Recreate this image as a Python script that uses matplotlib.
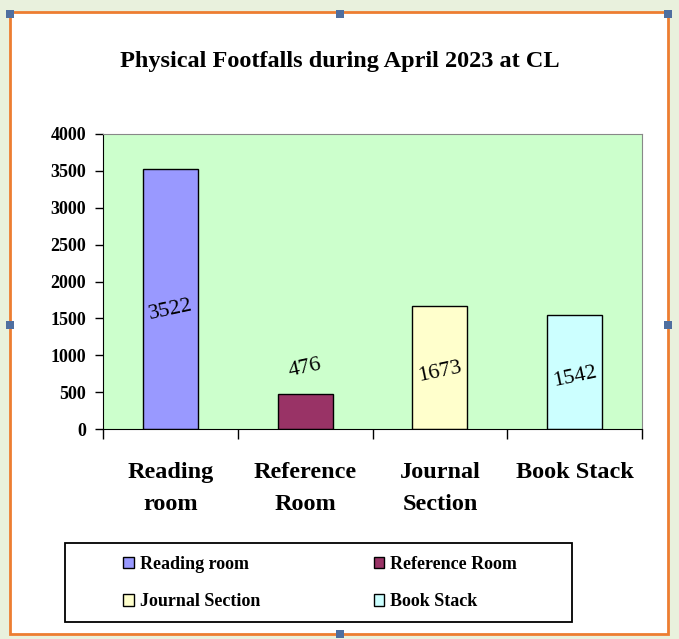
import matplotlib
matplotlib.use("Agg")
import matplotlib.pyplot as plt
from matplotlib.patches import Rectangle
import numpy as np

categories = ["Reading room", "Reference Room", "Journal Section", "Book Stack"]
tick_labels = ["Reading\nroom", "Reference\nRoom", "Journal\nSection", "Book Stack"]
footfalls = [3522, 476, 1673, 1542]
bar_colors = ["#9999FF", "#993366", "#FFFFCC", "#CCFFFF"]

plt.rcParams["font.family"] = ["Liberation Serif", "DejaVu Serif"]
plt.rcParams["font.weight"] = "bold"

fig = plt.figure(figsize=(6.79, 6.39), dpi=100)
fig.patch.set_facecolor("#E9F1DD")
W, H = 679, 639

# white chart area with orange frame
frame = Rectangle((10 / W, 1 - 634 / H), 658 / W, 622 / H, transform=fig.transFigure,
                  facecolor="white", edgecolor="#ED7D31", linewidth=2, zorder=-5)
fig.patches.append(frame)
for hx, hy in [(10, 14), (340, 14), (668, 14), (10, 325), (668, 325), (340, 634)]:
    fig.patches.append(Rectangle(((hx - 4) / W, 1 - (hy + 4) / H), 8 / W, 8 / H,
                                 transform=fig.transFigure, facecolor="#4F6FA0",
                                 edgecolor="none", zorder=-4))
# legend box
fig.patches.append(Rectangle((65 / W, 1 - 622 / H), 507 / W, 79 / H,
                             transform=fig.transFigure, facecolor="white",
                             edgecolor="black", linewidth=1.3, zorder=-3))

ax = fig.add_axes([103 / W, 1 - 429 / H, 539 / W, 295 / H])
ax.set_zorder(2)
ax.set_facecolor("#CCFFCC")
x = np.arange(len(categories))
bars = ax.bar(x, footfalls, width=0.41, color=bar_colors, edgecolor="black",
              linewidth=1, label=categories)
ax.set_xlim(-0.5, 3.5)
ax.set_ylim(0, 4000)
ax.set_yticks(range(0, 4001, 500))
ax.tick_params(axis="y", labelsize=13, length=6, width=1, pad=6)
ax.set_xticks(np.arange(-0.5, 4, 1))
ax.set_xticklabels([])
ax.tick_params(axis="x", length=7, width=1)
for lbl in ax.get_yticklabels():
    lbl.set_fontweight("bold")
for i, t in enumerate(tick_labels):
    ax.text(i, -450, t, ha="center", va="top", fontsize=17.5, fontweight="bold",
            linespacing=1.65, clip_on=False)
for s in ["top", "right"]:
    ax.spines[s].set_color("#888888")

# data labels
for i, v in enumerate(footfalls):
    ly = v * 0.46 if v > 1000 else v + 350
    ax.text(i, ly, str(v), ha="center", va="center", rotation=12, fontsize=16,
            fontweight="normal")

fig.text(340 / W, 1 - 62 / H, "Physical Footfalls during April 2023 at CL",
         ha="center", va="center", fontsize=17.5, fontweight="bold")

order = [0, 2, 1, 3]
leg = fig.legend(handles=[bars[i] for i in order], labels=[categories[i] for i in order],
                 ncol=2, loc="center", bbox_to_anchor=(320 / W, 1 - 583 / H),
                 frameon=False, fontsize=13,
                 handlelength=0.6, handleheight=0.6, handletextpad=0.3,
                 columnspacing=6.3, labelspacing=1.15)
for t in leg.get_texts():
    t.set_fontweight("bold")

fig.savefig("out.png", dpi=100, facecolor=fig.get_facecolor())
